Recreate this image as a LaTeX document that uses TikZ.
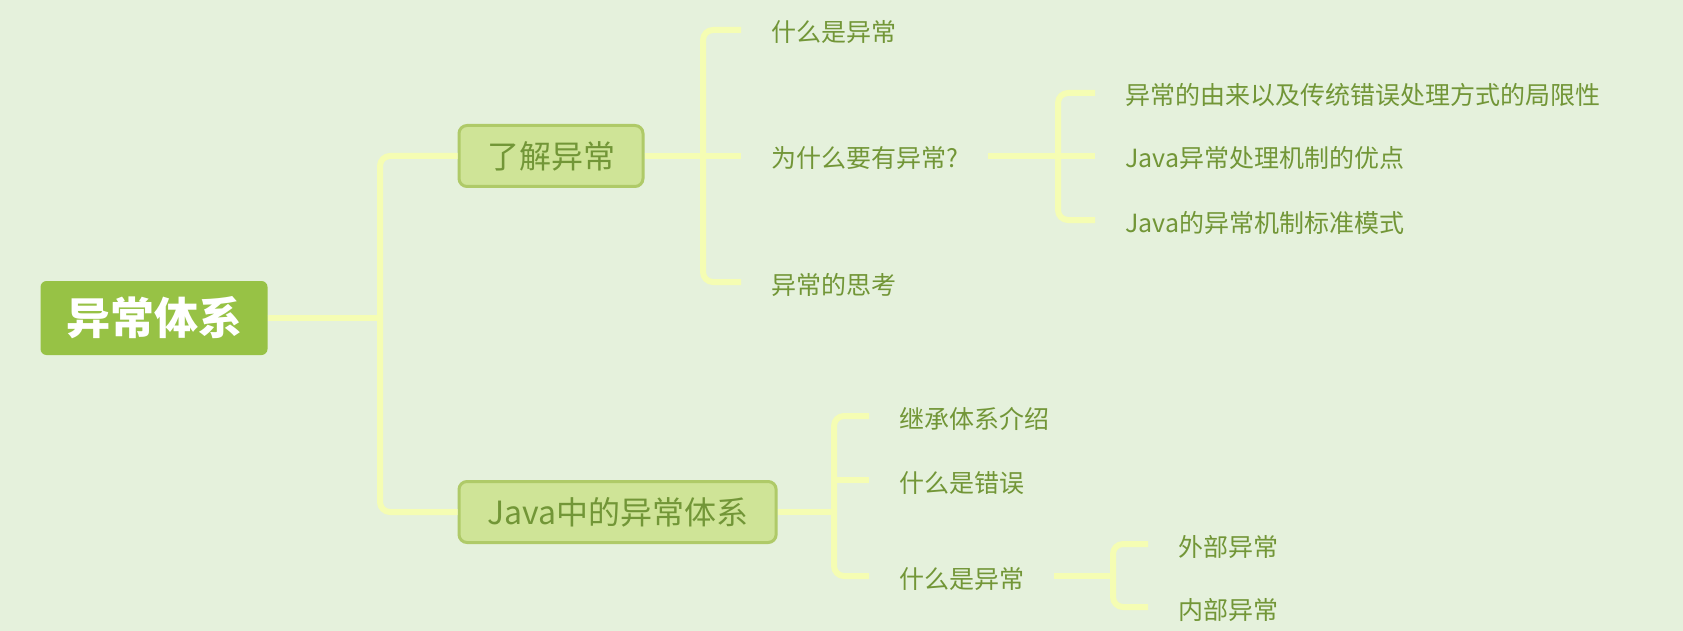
\documentclass[tikz,border=0pt]{standalone}
\usepackage{fontspec}
\setmainfont{Noto Sans CJK SC}

\definecolor{bgcolor}{HTML}{E5F1DC}
\definecolor{rootgreen}{HTML}{97C245}
\definecolor{mainfill}{HTML}{CFE497}
\definecolor{mainedge}{HTML}{AFCA68}
\definecolor{textgreen}{HTML}{729637}
\definecolor{linecolor}{HTML}{F5FDB3}

\begin{document}
\begin{tikzpicture}[x=1pt,y=-1pt]

\tikzstyle{rootbox}=[rectangle,rounded corners=6pt,fill=rootgreen,text=white,font=\fontsize{44}{50}\selectfont\bfseries,minimum width=227pt,minimum height=74pt,inner sep=0pt,text height=38.7pt,text depth=5.3pt]
\tikzstyle{mainbox}=[rectangle,rounded corners=8pt,fill=mainfill,draw=mainedge,line width=3pt,text=textgreen,font=\fontsize{32}{38}\selectfont,minimum height=61pt,inner xsep=28pt,inner ysep=0pt,text height=28.2pt,text depth=3.8pt,anchor=west]
\tikzstyle{leaf}=[rectangle,anchor=west,text=textgreen,font=\fontsize{25}{30}\selectfont,inner xsep=30pt,inner ysep=0pt,text height=27pt,text depth=3pt]
\tikzstyle{branch}=[draw=linecolor,line width=6pt,rounded corners=10pt]

\fill[bgcolor] (0,0) rectangle (1683,631);

%topics.
\node[rootbox] (root) at (154,318) {异常体系};
\node[mainbox] (know) at (457.5,156) {了解异常};
\node[mainbox] (java) at (457.5,512) {Java中的异常体系};

\node[leaf] (whatEx) at (741,30) {什么是异常};
\node[leaf] (why) at (741,156) {为什么要有异常?};
\node[leaf] (think) at (741,282) {异常的思考};

\node[leaf] (origin) at (1095,93) {异常的由来以及传统错误处理方式的局限性};
\node[leaf] (merit) at (1095,156) {Java异常处理机制的优点};
\node[leaf] (pattern) at (1095,220) {Java的异常机制标准模式};

\node[leaf] (inherit) at (869,416) {继承体系介绍};
\node[leaf] (whatErr) at (869,480) {什么是错误};
\node[leaf] (whatEx2) at (869,576) {什么是异常};

\node[leaf] (outer) at (1148,544) {外部异常};
\node[leaf] (inner) at (1148,607) {内部异常};

%junctions.
\coordinate (rootj) at (380,318);
\coordinate (knowj) at (703,156);
\coordinate (whyj) at (1058,156);
\coordinate (javaj) at (834,512);
\coordinate (exj) at (1113,576);

\draw[branch] (root.east) -- (rootj);
\draw[branch] (rootj) |- (know.west);
\draw[branch] (rootj) |- (java.west);

\draw[branch] (know.east) -- (knowj);
\draw[branch] (knowj) |- (whatEx.west);
\draw[branch] (knowj) -- (why.west);
\draw[branch] (knowj) |- (think.west);

\draw[branch] (why.east) -- (whyj);
\draw[branch] (whyj) |- (origin.west);
\draw[branch] (whyj) -- (merit.west);
\draw[branch] (whyj) |- (pattern.west);

\draw[branch] (java.east) -- (javaj);
\draw[branch] (javaj) |- (inherit.west);
\draw[branch] (javaj |- whatErr.west) -- (whatErr.west);
\draw[branch] (javaj) |- (whatEx2.west);

\draw[branch] (whatEx2.east) -- (exj);
\draw[branch] (exj) |- (outer.west);
\draw[branch] (exj) |- (inner.west);

\end{tikzpicture}
\end{document}
